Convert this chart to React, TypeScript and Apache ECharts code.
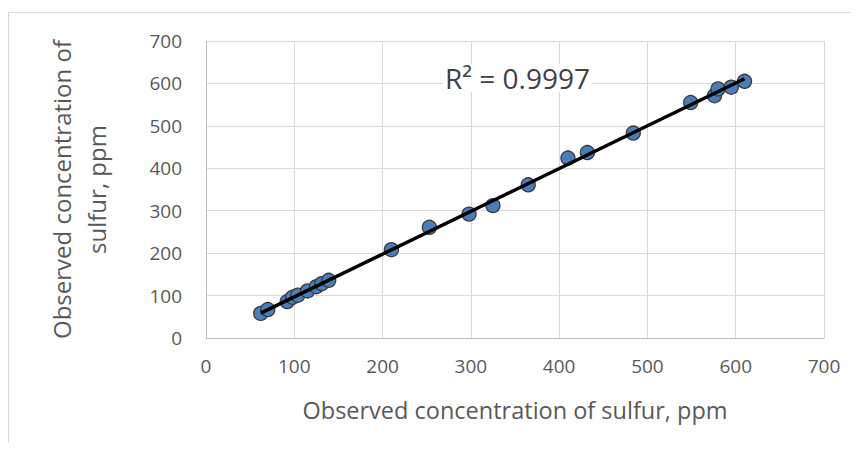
import React, { useEffect, useRef } from "react";
import * as echarts from "echarts";

const xValues = [62, 70, 92, 98, 104, 115, 125, 131, 139, 210, 253, 298, 325, 365, 410, 432, 484, 549, 576, 580, 595, 610];
const yValues = [58, 67, 86, 96, 101, 111, 121, 128, 136, 208, 261, 292, 312, 361, 424, 437, 483, 555, 571, 587, 591, 605];
const axisTicks = [0, 100, 200, 300, 400, 500, 600, 700];
const axisTitle = "Observed concentration of sulfur, ppm";
const yAxisTitle = "Observed concentration of\nsulfur, ppm";
const r2Label = "R² = 0.9997";

function regression(xs: number[], ys: number[]) {
  const n = xs.length;
  const mx = xs.reduce((a, b) => a + b, 0) / n;
  const my = ys.reduce((a, b) => a + b, 0) / n;
  let sxy = 0, sxx = 0;
  for (let i = 0; i < n; i++) {
    sxy += (xs[i] - mx) * (ys[i] - my);
    sxx += (xs[i] - mx) * (xs[i] - mx);
  }
  const slope = sxy / sxx;
  return { slope, intercept: my - slope * mx };
}

export default function App() {
  const ref = useRef<HTMLDivElement>(null);
  useEffect(() => {
    if (!ref.current) return;
    const chart = echarts.init(ref.current, null, { renderer: "svg" });
    const { slope, intercept } = regression(xValues, yValues);
    const xmin = Math.min(...xValues);
    const xmax = Math.max(...xValues);
    const font = "'Open Sans', sans-serif";
    chart.setOption({
      animation: false,
      backgroundColor: "#ffffff",
      grid: { left: 206, top: 41, right: 34, bottom: 112, containLabel: false },
      xAxis: {
        type: "value",
        min: axisTicks[0],
        max: axisTicks[axisTicks.length - 1],
        interval: 100,
        name: axisTitle,
        nameLocation: "middle",
        nameGap: 60,
        nameTextStyle: { fontFamily: font, fontSize: 23.5, color: "#595959" },
        axisLine: { show: true, lineStyle: { color: "#bfbfbf", width: 1 } },
        axisTick: { show: false },
        axisLabel: { fontFamily: font, fontSize: 19, color: "#595959", margin: 18 },
        splitLine: { show: true, lineStyle: { color: "#d9d9d9", width: 1 } },
      },
      yAxis: {
        type: "value",
        min: axisTicks[0],
        max: axisTicks[axisTicks.length - 1],
        interval: 100,
        name: yAxisTitle,
        nameLocation: "middle",
        nameGap: 92,
        nameRotate: 90,
        nameTextStyle: { fontFamily: font, fontSize: 24, color: "#595959", lineHeight: 35, align: "center" },
        axisLine: { show: true, lineStyle: { color: "#bfbfbf", width: 1 } },
        axisTick: { show: false },
        axisLabel: { fontFamily: font, fontSize: 19, color: "#595959", margin: 24 },
        splitLine: { show: true, lineStyle: { color: "#d9d9d9", width: 1 } },
      },
      graphic: [
        {
          type: "rect",
          shape: { x: 8.5, y: 12.5, width: 1000, height: 1000 },
          style: { fill: "none", stroke: "#d9d9d9", lineWidth: 1 },
          z: -1,
        },
        {
          type: "text",
          left: 443,
          top: 64,
          z: 10,
          style: {
            text: r2Label,
            fontFamily: font,
            fontSize: 28,
            fill: "#404040",
            backgroundColor: "#ffffff",
            padding: [0, 2, 0, 2],
          },
        },
      ],
      series: [
        {
          type: "scatter",
          data: xValues.map((x, i) => [x, yValues[i]]),
          symbol: "circle",
          symbolSize: 14,
          itemStyle: { color: "#4a7ebb", borderColor: "#3a3a3a", borderWidth: 1.3, opacity: 1 },
          z: 2,
        },
        {
          type: "line",
          data: [
            [xmin, intercept + slope * xmin],
            [xmax, intercept + slope * xmax],
          ],
          symbol: "none",
          lineStyle: { color: "#000000", width: 3.5 },
          z: 3,
        },
      ],
    });
    return () => chart.dispose();
  }, []);
  return <div ref={ref} style={{ width: 858, height: 450, margin: -8 }} />;
}
